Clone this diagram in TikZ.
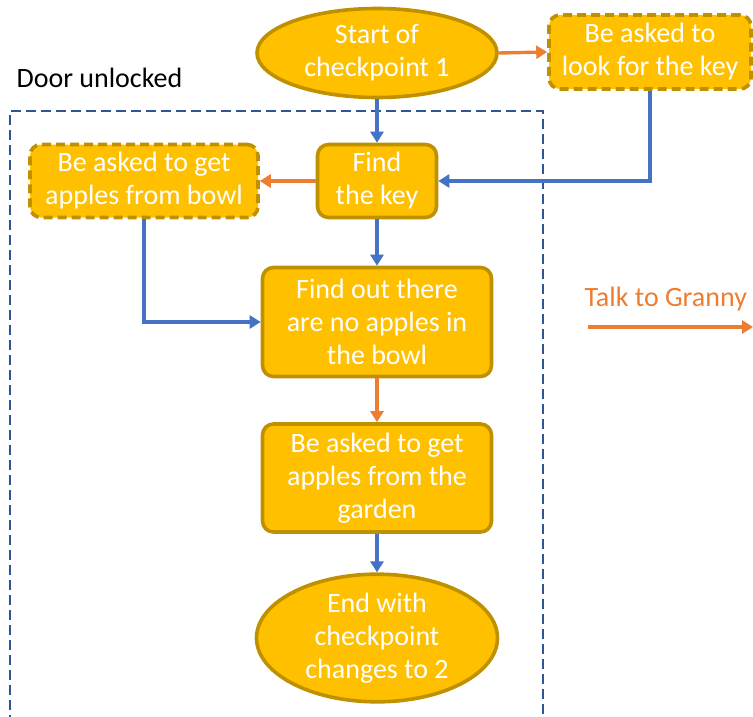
\documentclass[tikz,border=0pt]{standalone}
\usepackage{fontspec}
\setmainfont{Carlito}
\usetikzlibrary{shapes.geometric,arrows.meta}
\definecolor{gold}{HTML}{FFC000}
\definecolor{golddark}{HTML}{BF9000}
\definecolor{flowblue}{HTML}{4472C4}
\definecolor{floworange}{HTML}{ED7D31}
\definecolor{framblue}{HTML}{2F5597}
\tikzset{
  every node/.style={font=\fontsize{28}{33}\selectfont, align=center},
  stepbox/.style={draw=golddark, fill=gold, line width=3.6pt, rounded corners=11pt,
    text=white, inner sep=0pt},
  optbox/.style={stepbox, dash pattern=on 9pt off 5pt},
  terminal/.style={ellipse, draw=golddark, fill=gold, line width=3.6pt, text=white, inner sep=0pt},
  blueflow/.style={draw=flowblue, line width=3.4pt, -{Triangle[length=11pt,width=13pt]}},
  orangeflow/.style={draw=floworange, line width=3.4pt, -{Triangle[length=11pt,width=13pt]}},
}
\begin{document}
\begin{tikzpicture}[x=1pt,y=-1pt]
\useasboundingbox (0,0) rectangle (753,717);
\begin{scope}
\clip (0,0) rectangle (753,717);
% dashed region: door unlocked
\draw[framblue, line width=1.6pt, dash pattern=on 10pt off 5pt] (10,740) -- (10,111) -- (543,111) -- (543,740);
\end{scope}
\node[anchor=west, text=black] (door) at (13,78) {Door unlocked};

\node[terminal, minimum width=240pt, minimum height=89pt] (start) at (377,53) {Start of\\checkpoint 1};
\node[optbox, minimum width=202pt, minimum height=74pt] (look) at (650,52) {Be asked to\\look for the key};
\node[stepbox, minimum width=119pt, minimum height=73pt] (find) at (377,181) {Find\\the key};
\node[optbox, minimum width=228pt, minimum height=73pt] (bowl) at (144,181) {Be asked to get\\apples from bowl};
\node[stepbox, minimum width=229pt, minimum height=109pt] (noapples) at (377,322) {Find out there\\are no apples in\\the bowl};
\node[stepbox, minimum width=229pt, minimum height=108pt] (garden) at (377,478) {Be asked to get\\apples from the\\garden};
\node[terminal, minimum width=241pt, minimum height=115pt] (end) at (377,638) {End with\\checkpoint\\changes to 2};

\draw[orangeflow] (start.east) -- (look.west);
\draw[blueflow] (look.south) |- (find.east);
\draw[blueflow] (start.south) -- (find.north);
\draw[orangeflow] (find.west) -- (bowl.east);
\draw[blueflow] (bowl.south) |- (noapples.west);
\draw[blueflow] (find.south) -- (noapples.north);
\draw[orangeflow] (noapples.south) -- (garden.north);
\draw[blueflow] (garden.south) -- (end.north);

% legend
\node[anchor=west, text=floworange] (legend) at (581,299) {Talk to Granny};
\coordinate (legA) at (588,327);
\coordinate (legB) at (753,327);
\draw[orangeflow] (legA) -- (legB);
\end{tikzpicture}
\end{document}
